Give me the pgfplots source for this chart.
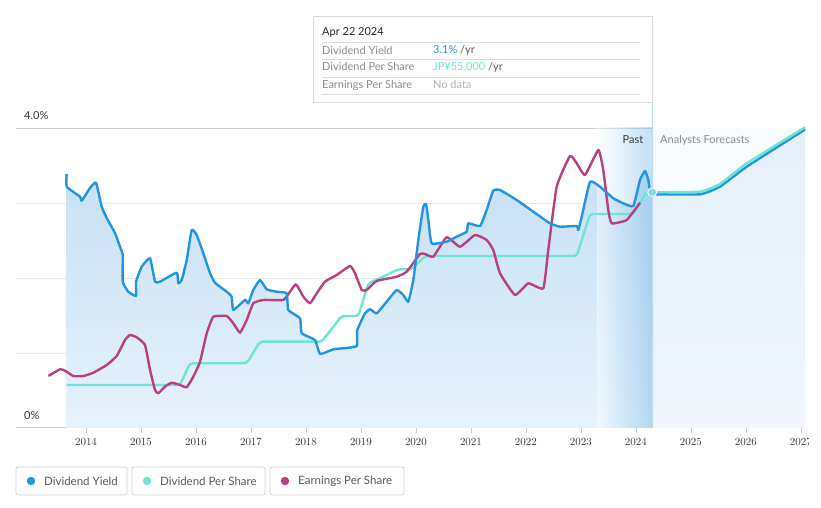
\documentclass[border=0pt]{standalone}
\usepackage{fontspec}
\setmainfont{Lato}
\usepackage{pgfplots}
\pgfplotsset{compat=1.18}
\definecolor{dy}{RGB}{35,148,223}
\definecolor{dps}{RGB}{108,229,212}
\definecolor{eps}{RGB}{182,64,128}
\definecolor{gridc}{RGB}{232,232,232}
\definecolor{axc}{RGB}{205,205,205}
\definecolor{txt}{RGB}{55,55,55}
\definecolor{lbl}{RGB}{140,140,140}
\definecolor{areatop}{RGB}{198,224,245}
\definecolor{areabot}{RGB}{230,242,251}
\definecolor{fctop}{RGB}{228,240,250}
\definecolor{fcbot}{RGB}{240,246,252}
\definecolor{fcbg}{RGB}{248,251,254}
\definecolor{bandl}{RGB}{255,255,255}
\definecolor{bandr}{RGB}{115,182,232}
\definecolor{vline}{RGB}{185,218,242}
\pgfplotsset{ln/.style={line width=2.4pt, line join=round, smooth, tension=0.25},
  lnstep/.style={line width=2.4pt, line join=round, rounded corners=3pt}}
\begin{document}
\begin{tikzpicture}[x=1pt,y=1pt]
\path[use as bounding box] (0,0) rectangle (821,508);
\begin{scope}
\clip (0,0) rectangle (808,508);
\begin{axis}[
  at={(16pt,80pt)}, anchor=south west,
  scale only axis, width=789pt, height=300pt,
  xmin=2012.727, xmax=2027.073, ymin=0, ymax=4,
  clip=false,
  axis x line*=bottom, axis y line*=left,
  x axis line style={draw=axc, line width=1pt, -},
  y axis line style={draw=none},
  xtick={2014,...,2027},
  xticklabel={\pgfmathprintnumber[1000 sep={},fixed,precision=0]{\tick}},
  xticklabel style={font=\fontsize{11}{13}\selectfont, text=txt, yshift=-2pt},
  tick align=outside, major tick length=5pt,
  xtick style={draw=axc, line width=0.8pt},
  ytick={1,2,3}, yticklabels={},
  ytick style={draw=none},
  ymajorgrids, grid style={draw=gridc, line width=0.8pt},
  extra y ticks={4}, extra y tick labels={},
  extra y tick style={grid style={draw=axc, line width=0.8pt}, ytick style={draw=none}},
]
% forecast background
\addplot[draw=none, fill=fcbg, forget plot] coordinates {(2024.31,4) (2027.073,4)} \closedcycle;
% past area under dividend yield
\addplot[draw=none, top color=areatop, bottom color=areabot, forget plot, smooth, tension=0.25] coordinates {
(2013.649,3.217) (2013.891,3.084) (2013.922,3.031) (2014.073,3.2) (2014.182,3.271)
(2014.285,2.951) (2014.376,2.8) (2014.527,2.6) (2014.618,2.417) (2014.667,2.307)
(2014.668,1.951) (2014.769,1.817) (2014.909,1.76) (2014.91,1.951) (2015.013,2.151)
(2015.164,2.263) (2015.255,1.951) (2015.345,1.951) (2015.649,2.071) (2015.678,1.929)
(2015.74,1.973) (2015.831,2.24) (2015.922,2.64) (2016.013,2.573) (2016.133,2.329)
(2016.255,2.063) (2016.345,1.937) (2016.558,1.817) (2016.649,1.751) (2016.678,1.573)
(2016.891,1.707) (2016.951,1.663) (2017.042,1.84) (2017.164,1.973) (2017.285,1.849)
(2017.467,1.817) (2017.649,1.796) (2017.678,1.573) (2017.891,1.463) (2017.922,1.263)
(2018.164,1.173) (2018.255,0.987) (2018.496,1.049) (2018.678,1.063) (2018.922,1.093)
(2018.933,1.307) (2019.073,1.529) (2019.164,1.583) (2019.285,1.529) (2019.467,1.684)
(2019.649,1.84) (2019.769,1.773) (2019.86,1.684) (2019.951,1.973) (2020.042,2.507)
(2020.133,2.951) (2020.182,2.987) (2020.224,2.773) (2020.285,2.463) (2020.558,2.484)
(2020.74,2.551) (2020.922,2.617) (2020.951,2.729) (2021.164,2.693) (2021.285,2.907)
(2021.405,3.164) (2021.527,3.173) (2021.831,3.04) (2022.133,2.884) (2022.436,2.729)
(2022.618,2.684) (2022.922,2.693) (2022.951,2.64) (2023.013,2.817) (2023.164,3.284)
(2023.345,3.217) (2023.587,3.063) (2023.769,2.996) (2023.951,2.96) (2024.073,3.307)
(2024.164,3.427) (2024.224,3.307) (2024.267,3.084) (2024.31,3.116)} \closedcycle;
% forecast area
\addplot[draw=none, top color=fctop, bottom color=fcbot, forget plot, smooth, tension=0.25] coordinates {
(2024.31,3.116) (2025.164,3.116) (2025.527,3.217) (2026.013,3.484) (2027.073,3.98)} \closedcycle;
% past band overlay
\addplot[draw=none, left color=bandl, right color=bandr, fill opacity=0.45, forget plot] coordinates {(2023.29,4) (2024.31,4)} \closedcycle;
% dividend per share
\addplot[dps, lnstep] coordinates {
(2013.649,0.573) (2015.709,0.573) (2015.891,0.863) (2016.922,0.863) (2017.164,1.151)
(2018.285,1.151) (2018.649,1.493) (2018.951,1.493) (2019.133,1.929) (2019.345,1.996)
(2019.678,2.116) (2019.922,2.116) (2020.164,2.293) (2022.922,2.293) (2023.164,2.853)
(2023.951,2.853) (2024.195,3.151) (2024.296,3.143)};
% earnings per share
\addplot[eps, ln] coordinates {
(2013.315,0.693) (2013.527,0.783) (2013.618,0.764) (2013.769,0.693) (2013.951,0.693)
(2014.133,0.737) (2014.376,0.84) (2014.558,0.96) (2014.709,1.173) (2014.8,1.24)
(2014.922,1.209) (2015.073,1.107) (2015.164,0.773) (2015.255,0.507) (2015.315,0.463)
(2015.436,0.551) (2015.558,0.604) (2015.709,0.573) (2015.831,0.543) (2015.951,0.684)
(2016.073,0.884) (2016.195,1.263) (2016.315,1.484) (2016.558,1.493) (2016.678,1.396)
(2016.8,1.271) (2016.922,1.44) (2017.042,1.663) (2017.224,1.707) (2017.587,1.707)
(2017.709,1.817) (2017.818,1.916) (2017.951,1.751) (2018.073,1.663) (2018.195,1.796)
(2018.345,1.951) (2018.558,2.04) (2018.8,2.16) (2018.891,2.063) (2019.013,1.84)
(2019.104,1.84) (2019.285,1.96) (2019.649,2.017) (2019.831,2.084) (2020.073,2.32)
(2020.164,2.32) (2020.315,2.284) (2020.558,2.543) (2020.8,2.417) (2021.073,2.573)
(2021.285,2.507) (2021.405,2.373) (2021.527,2.063) (2021.8,1.773) (2022.042,1.929)
(2022.315,1.863) (2022.405,2.373) (2022.558,3.217) (2022.8,3.627) (2022.922,3.529)
(2023.073,3.373) (2023.315,3.707) (2023.405,3.44) (2023.496,2.907) (2023.558,2.729)
(2023.831,2.773) (2024.073,3.004)};
% dividend yield
\addplot[dy, ln] coordinates {
(2013.649,3.387) (2013.649,3.217) (2013.891,3.084) (2013.922,3.031) (2014.073,3.2) (2014.182,3.271)
(2014.285,2.951) (2014.376,2.8) (2014.527,2.6) (2014.618,2.417) (2014.667,2.307)
(2014.668,1.951) (2014.769,1.817) (2014.909,1.76) (2014.91,1.951) (2015.013,2.151)
(2015.164,2.263) (2015.255,1.951) (2015.345,1.951) (2015.649,2.071) (2015.678,1.929)
(2015.74,1.973) (2015.831,2.24) (2015.922,2.64) (2016.013,2.573) (2016.133,2.329)
(2016.255,2.063) (2016.345,1.937) (2016.558,1.817) (2016.649,1.751) (2016.678,1.573)
(2016.891,1.707) (2016.951,1.663) (2017.042,1.84) (2017.164,1.973) (2017.285,1.849)
(2017.467,1.817) (2017.649,1.796) (2017.678,1.573) (2017.891,1.463) (2017.922,1.263)
(2018.164,1.173) (2018.255,0.987) (2018.496,1.049) (2018.678,1.063) (2018.922,1.093)
(2018.933,1.307) (2019.073,1.529) (2019.164,1.583) (2019.285,1.529) (2019.467,1.684)
(2019.649,1.84) (2019.769,1.773) (2019.86,1.684) (2019.951,1.973) (2020.042,2.507)
(2020.133,2.951) (2020.182,2.987) (2020.224,2.773) (2020.285,2.463) (2020.558,2.484)
(2020.74,2.551) (2020.922,2.617) (2020.951,2.729) (2021.164,2.693) (2021.285,2.907)
(2021.405,3.164) (2021.527,3.173) (2021.831,3.04) (2022.133,2.884) (2022.436,2.729)
(2022.618,2.684) (2022.922,2.693) (2022.951,2.64) (2023.013,2.817) (2023.164,3.284)
(2023.345,3.217) (2023.587,3.063) (2023.769,2.996) (2023.951,2.96) (2024.073,3.307)
(2024.164,3.427) (2024.224,3.307) (2024.267,3.084)};
\addplot[dy, ln] coordinates {
(2024.296,3.116) (2025.164,3.116) (2025.527,3.217) (2026.013,3.484) (2027.073,3.98)};
\addplot[dps, ln] coordinates {
(2024.296,3.143) (2025.164,3.151) (2025.527,3.253) (2026.013,3.529) (2027.073,4.009)};
% marker
\addplot[only marks, mark=*, mark size=4.5pt, mark options={fill=dps, draw=white, line width=1pt}] coordinates {(2024.296,3.143)};
\end{axis}
\end{scope}
% vertical line
\draw[vline, line width=0.8pt] (652,492) -- (652,80);
% y labels
\node[anchor=west, font=\fontsize{11}{13}\selectfont, text=txt, inner sep=0pt] at (24,392) {4.0\%};
\node[anchor=west, font=\fontsize{11}{13}\selectfont, text=txt, inner sep=0pt] at (24,92) {0\%};
% past / forecast labels
\node[font=\fontsize{11}{13}\selectfont, text=txt, inner sep=0pt] at (633,368) {Past};
\node[anchor=west, font=\fontsize{11}{13}\selectfont, text=lbl, inner sep=0pt] at (660,368) {Analysts Forecasts};
% tooltip
\draw[draw=black!15, fill=white, line width=0.8pt] (313,492) rectangle (652,406);
\foreach \yy in {466,449,431,414} { \draw[black!13, line width=0.8pt] (322,\yy) -- (640,\yy); }
\node[anchor=west, font=\fontsize{11}{13}\selectfont, text=black!85, inner sep=0pt] at (322,476) {Apr 22 2024};
\node[anchor=west, font=\fontsize{11}{13}\selectfont, text=lbl, inner sep=0pt] at (322,458) {Dividend Yield};
\node[anchor=west, font=\fontsize{11}{13}\selectfont, text=lbl, inner sep=0pt] at (322,441) {Dividend Per Share};
\node[anchor=west, font=\fontsize{11}{13}\selectfont, text=lbl, inner sep=0pt] at (322,423) {Earnings Per Share};
\node[anchor=west, font=\fontsize{11}{13}\selectfont, inner sep=0pt] at (433,458) {\textcolor{dy}{3.1\%} \textcolor{black!65}{/yr}};
\node[anchor=west, font=\fontsize{11}{13}\selectfont, inner sep=0pt] at (433,441) {\textcolor{dps}{JP¥55.000} \textcolor{black!65}{/yr}};
\node[anchor=west, font=\fontsize{11}{13}\selectfont, text=black!30, inner sep=0pt] at (433,423) {No data};
% legend
\draw[black!18, line width=0.8pt, rounded corners=2pt, fill=white] (16,41) rectangle (127,13);
\draw[black!18, line width=0.8pt, rounded corners=2pt, fill=white] (132,41) rectangle (265,13);
\draw[black!18, line width=0.8pt, rounded corners=2pt, fill=white] (270,41) rectangle (404,13);
\fill[dy] (31,27) circle (4.2);
\fill[dps] (147,27) circle (4.2);
\fill[eps] (285,27) circle (4.2);
\node[anchor=west, font=\fontsize{11.5}{13}\selectfont, text=black!65, inner sep=0pt] at (44,27) {Dividend Yield};
\node[anchor=west, font=\fontsize{11.5}{13}\selectfont, text=black!65, inner sep=0pt] at (160,27) {Dividend Per Share};
\node[anchor=west, font=\fontsize{11.5}{13}\selectfont, text=black!65, inner sep=0pt] at (298,27) {Earnings Per Share};
\end{tikzpicture}
\end{document}
